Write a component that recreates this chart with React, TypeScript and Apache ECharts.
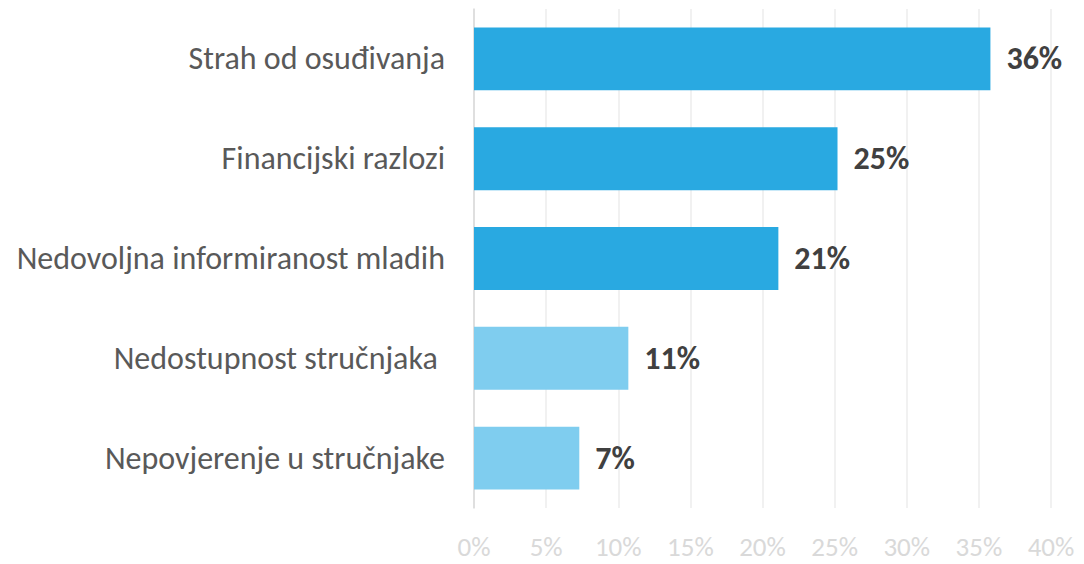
import React, { useEffect, useRef } from "react";
import * as echarts from "echarts";

const categories = [
  "Strah od osuđivanja",
  "Financijski razlozi",
  "Nedovoljna informiranost mladih",
  "Nedostupnost stručnjaka ",
  "Nepovjerenje u stručnjake",
];
const values = [35.8, 25.2, 21.1, 10.7, 7.3];
const barColors = ["#29A9E1", "#29A9E1", "#29A9E1", "#7FCDEF", "#7FCDEF"];

export default function App() {
  const ref = useRef<HTMLDivElement>(null);
  useEffect(() => {
    document.body.style.margin = "0";
    const chart = echarts.init(ref.current!, null, { renderer: "svg" });
    const font = "Carlito, 'Open Sans', sans-serif";
    chart.setOption({
      animation: false,
      grid: { left: 474, right: 33, top: 9, bottom: 56, containLabel: false },
      xAxis: {
        type: "value",
        min: 0,
        max: 40,
        interval: 5,
        axisLine: { show: false },
        axisTick: { show: false },
        splitLine: { show: true, lineStyle: { color: "#EDEDED", width: 1.5 } },
        axisLabel: {
          formatter: "{value}%",
          color: "#D9D9D9",
          fontSize: 27,
          lineHeight: 27,
          fontFamily: font,
          margin: 25,
        },
      },
      yAxis: {
        type: "category",
        data: categories,
        inverse: true,
        axisLine: { show: true, lineStyle: { color: "#D9D9D9", width: 1.5 } },
        axisTick: { show: false },
        axisLabel: {
          color: "#595959",
          fontSize: 32,
          fontFamily: font,
          margin: 29,
        },
      },
      series: [
        {
          type: "bar",
          barWidth: "63%",
          data: values.map((v, i) => ({ value: v, itemStyle: { color: barColors[i] } })),
          label: {
            show: true,
            position: "right",
            distance: 16,
            formatter: (p: any) => Math.round(p.value) + "%",
            color: "#404040",
            fontSize: 32,
            fontWeight: "bold",
            fontFamily: font,
          },
        },
      ],
    });
    return () => chart.dispose();
  }, []);
  return <div ref={ref} style={{ width: 1084, height: 564 }} />;
}
